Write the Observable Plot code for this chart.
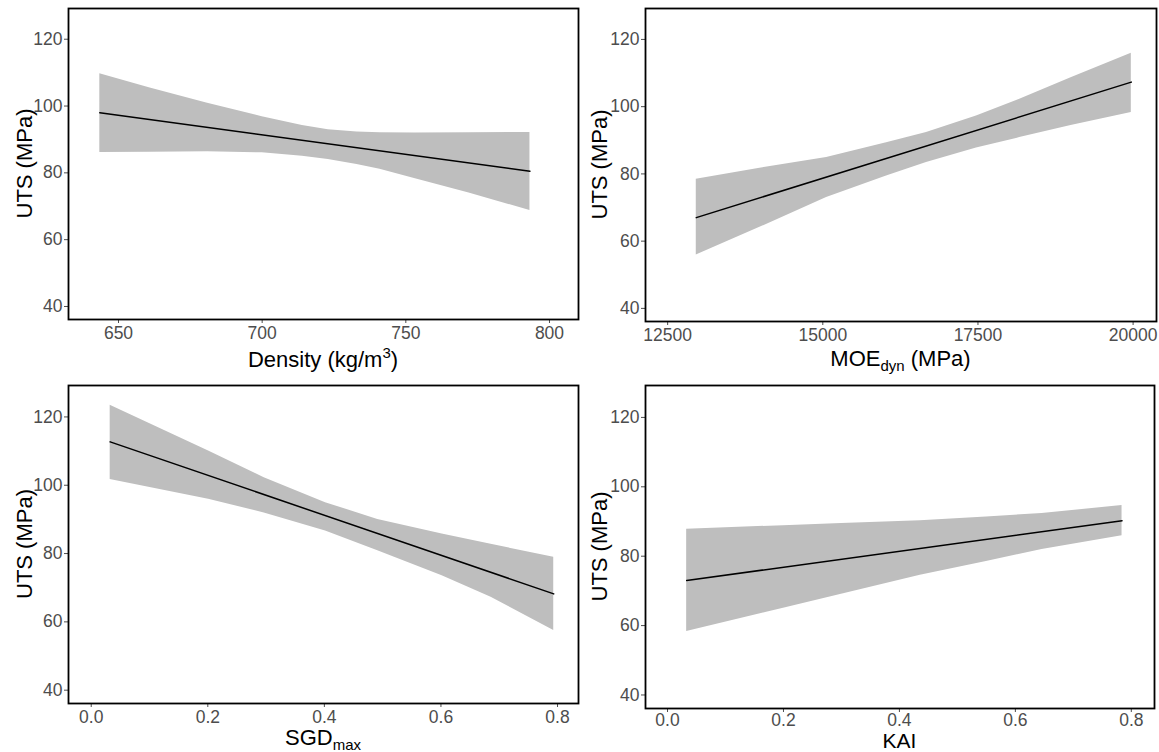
<!DOCTYPE html>
<html><head><meta charset="utf-8">
<script src="https://cdn.jsdelivr.net/npm/d3@7"></script>
<script src="https://cdn.jsdelivr.net/npm/@observablehq/plot@0.6"></script>
<style>
body{margin:0;background:#fff;}
#wrap{position:relative;width:1159px;height:752px;overflow:hidden;background:#fff;}
#wrap svg{position:absolute;overflow:visible;}
</style></head><body><div id="wrap"></div>
<script>
// ---- shared y axis ----
const yTicks = [40, 60, 80, 100, 120];
const yTitle = "UTS (MPa)";

// ---- Panel 1: Density ----
const densityX     = [643.5, 661, 681, 700, 714, 723, 733, 741, 753, 772, 793.2];
const densityUpper = [109.7, 105.4, 100.8, 96.8, 94.2, 92.9, 92.2, 92.0, 91.9, 92.0, 92.1];
const densityLower = [86.1, 86.2, 86.3, 86.0, 85.0, 84.0, 82.5, 81.1, 78.3, 74.0, 68.7];
const densityFitX  = [643.5, 793.2];
const densityFit   = [98.0, 80.5];
const densityTicks = [650, 700, 750, 800];

// ---- Panel 2: MOEdyn ----
const moeX     = [12961, 13986, 15061, 16027, 16671, 17476, 18173, 19000, 19971];
const moeUpper = [78.4, 81.7, 84.9, 89.3, 92.3, 97.2, 102.2, 108.6, 115.9];
const moeLower = [55.9, 64.1, 73.0, 79.4, 83.4, 87.7, 90.8, 94.4, 98.3];
const moeFitX  = [12961, 19971];
const moeFit   = [67.0, 107.3];
const moeTicks = [12500, 15000, 17500, 20000];

// ---- Panel 3: SGDmax ----
const sgdX     = [0.0325, 0.2013, 0.2968, 0.402, 0.4916, 0.602, 0.686, 0.7935];
const sgdUpper = [123.4, 110.0, 102.2, 94.9, 90.0, 85.7, 82.7, 78.9];
const sgdLower = [101.7, 95.9, 91.9, 86.6, 80.8, 73.5, 67.2, 57.5];
const sgdFitX  = [0.0325, 0.7935];
const sgdFit   = [112.7, 68.2];
const fracTicks = [0, 0.2, 0.4, 0.6, 0.8];

// ---- Panel 4: KAI ----
const kaiX     = [0.033, 0.2, 0.3, 0.436, 0.55, 0.646, 0.784];
const kaiUpper = [87.8, 88.8, 89.4, 90.2, 91.3, 92.3, 94.6];
const kaiLower = [58.3, 65.0, 69.0, 74.5, 78.5, 81.9, 85.9];
const kaiFitX  = [0.033, 0.784];
const kaiFit   = [73.0, 90.2];

const FONT = "'Liberation Sans', Arial, sans-serif";
const TICK_FS = 17.5;
const wrap = document.getElementById("wrap");

function panel(o) {
  const band = o.bx.map((x, i) => ({x, lo: o.lo[i], hi: o.hi[i]}));
  const fit = o.fx.map((x, i) => ({x, y: o.fy[i]}));
  const [mt, mr, mb, ml] = o.margin;
  const chart = Plot.plot({
    width: o.width, height: o.height,
    marginTop: mt, marginRight: mr, marginBottom: mb, marginLeft: ml,
    style: {fontFamily: FONT, background: "transparent"},
    x: {domain: o.xDomain, label: null},
    y: {domain: [36.1, 129.2], label: null},
    marks: [
      Plot.areaY(band, {x: "x", y1: "lo", y2: "hi", fill: "#bebebe", curve: "linear"}),
      Plot.line(fit, {x: "x", y: "y", stroke: "black", strokeWidth: 1.5}),
      Plot.axisX({ticks: o.xTicks, tickFormat: o.xFormat, tickSize: 4, tickPadding: o.xPad ?? 3,
                  fontSize: TICK_FS, color: "#4d4d4d", label: null}),
      Plot.axisY({ticks: yTicks, tickSize: 4, tickPadding: 2,
                  fontSize: TICK_FS, color: "#4d4d4d", label: null}),
      Plot.frame({stroke: "black", strokeWidth: 1.8})
    ]
  });
  chart.style.left = o.left + "px";
  chart.style.top = o.top + "px";
  const svg = d3.select(chart);
  svg.selectAll("g[aria-label$='tick label']").attr("font-size", TICK_FS);
  const cy = mt + (o.height - mt - mb) / 2;
  const cx = ml + (o.width - ml - mr) / 2;
  svg.append("text")
    .attr("transform", `translate(${o.yTitleX},${cy}) rotate(-90)`)
    .attr("text-anchor", "middle")
    .attr("font-family", FONT).attr("font-size", 22).attr("fill", "black")
    .text(yTitle);
  const t = svg.append("text")
    .attr("x", cx).attr("y", o.xTitleY)
    .attr("text-anchor", "middle")
    .attr("font-family", FONT).attr("font-size", o.xTitleFS ?? 22).attr("fill", "black");
  o.xTitle(t);
  wrap.appendChild(chart);
}

panel({left: 0, top: 0, width: 580, height: 376, margin: [8, 2, 57, 68],
  xDomain: [632.6, 810.1], xTicks: densityTicks, xFormat: d3.format("d"),
  bx: densityX, lo: densityLower, hi: densityUpper, fx: densityFitX, fy: densityFit,
  yTitleX: 32, xTitleY: 367,
  xTitle: t => {
    t.append("tspan").text("Density (kg/m");
    t.append("tspan").attr("dy", -9).attr("font-size", 15).text("3");
    t.append("tspan").attr("dy", 9).text(")");
  }});

panel({left: 580, top: 0, width: 579, height: 376, margin: [8, 3, 55, 65],
  xDomain: [12143, 20377], xTicks: moeTicks, xFormat: d3.format("d"),
  bx: moeX, lo: moeLower, hi: moeUpper, fx: moeFitX, fy: moeFit,
  yTitleX: 27, xTitleY: 366,
  xTitle: t => {
    t.append("tspan").text("MOE");
    t.append("tspan").attr("dy", 5).attr("font-size", 15).text("dyn");
    t.append("tspan").attr("dy", -5).text(" (MPa)");
  }});

panel({left: 0, top: 376, width: 580, height: 376, margin: [9, 2, 49, 68],
  xDomain: [-0.039, 0.836], xTicks: fracTicks, xFormat: d3.format(".1f"),
  bx: sgdX, lo: sgdLower, hi: sgdUpper, fx: sgdFitX, fy: sgdFit,
  yTitleX: 32, xTitleY: 369,
  xTitle: t => {
    t.append("tspan").text("SGD");
    t.append("tspan").attr("dy", 5).attr("font-size", 15).text("max");
  }});

panel({left: 580, top: 376, width: 579, height: 376, margin: [9, 5, 44, 65],
  xDomain: [-0.038, 0.840], xTicks: fracTicks, xFormat: d3.format(".1f"), xPad: 1,
  bx: kaiX, lo: kaiLower, hi: kaiUpper, fx: kaiFitX, fy: kaiFit,
  yTitleX: 27, xTitleY: 371.5, xTitleFS: 21,
  xTitle: t => { t.append("tspan").text("KAI"); }});
</script></body></html>
